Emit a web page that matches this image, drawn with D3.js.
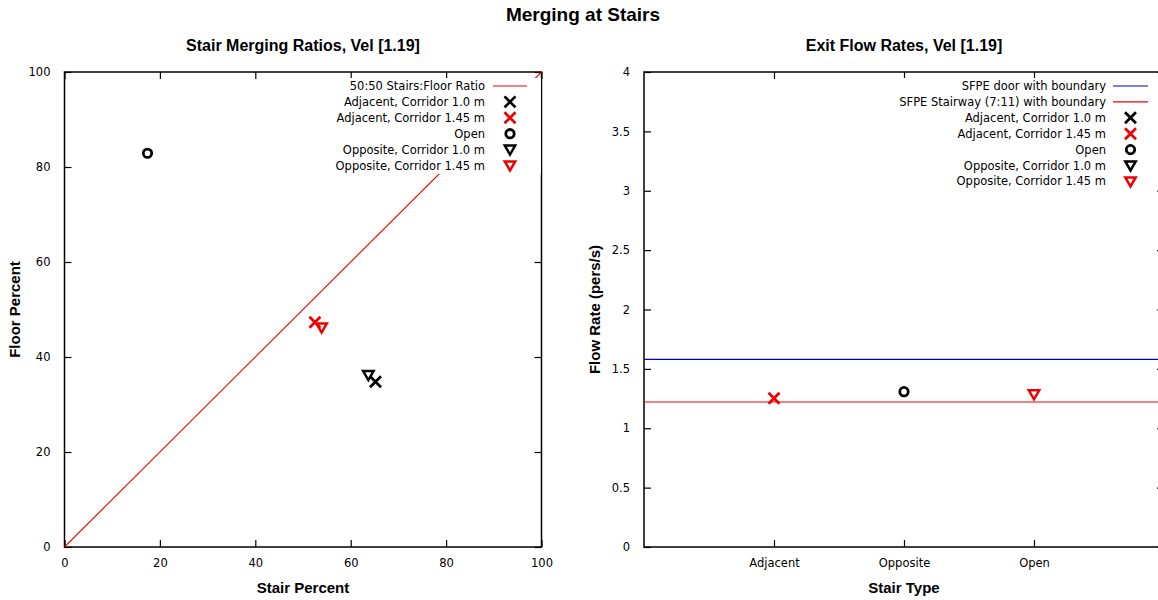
<!DOCTYPE html>
<html><head><meta charset="utf-8">
<script src="https://cdn.jsdelivr.net/npm/d3@7"></script>
<style>body{margin:0;background:#fff}svg{display:block}</style>
</head><body>
<svg id="c" width="1158" height="600"></svg>
<script>
// ---- data ----
const mainTitle = "Merging at Stairs";
const leftTitle = "Stair Merging Ratios, Vel [1.19]";
const rightTitle = "Exit Flow Rates, Vel [1.19]";
const seriesNames = ["Adjacent, Corridor 1.0 m","Adjacent, Corridor 1.45 m","Open","Opposite, Corridor 1.0 m","Opposite, Corridor 1.45 m"];
const seriesColors = ["#000","#e00","#000","#000","#e00"];
const seriesSymbols = ["x","x","o","v","v"];
const stairPercent = [65.2, 52.5, 17.4, 63.7, 53.9];
const floorPercent = [34.8, 47.3, 82.9, 36.2, 46.2];
const ratioLine = [[0,0],[100,100]];
const ratioLabel = "50:50 Stairs:Floor Ratio";
const pctTicks = [0,20,40,60,80,100];

const stairTypes = ["Adjacent","Opposite","Open"];
const flowSeriesIdx = [1, 2, 4];      // series drawn in right panel
const flowPos = [1, 2, 3];            // category position
const flowRate = [1.252, 1.308, 1.286];
const sfpeDoor = 1.58;
const sfpeStair = 1.221;
const sfpeNames = ["SFPE door with boundary","SFPE Stairway (7:11) with boundary"];
const sfpeColors = ["#00c","#e00"];
const flowTicks = [0,0.5,1,1.5,2,2.5,3,3.5,4];

// ---- drawing ----
const svg = d3.select("#c");
const tickFont = "'DejaVu Sans', sans-serif";
const boldFont = "'Liberation Sans', Arial, sans-serif";
const tickSize = 11.5;

svg.append("text").attr("x",583).attr("y",21).attr("text-anchor","middle")
  .attr("font-family",boldFont).attr("font-weight","bold").attr("font-size",19).text(mainTitle);

function symbol(g, type, color, cx, cy){
  if(type==="x"){
    g.append("path").attr("d",`M${cx-5.5},${cy-5.5}L${cx+5.5},${cy+5.5}M${cx-5.5},${cy+5.5}L${cx+5.5},${cy-5.5}`)
     .attr("stroke",color).attr("stroke-width",2.7).attr("fill","none");
  } else if(type==="o"){
    g.append("circle").attr("cx",cx).attr("cy",cy).attr("r",4.2)
     .attr("stroke",color).attr("stroke-width",2.8).attr("fill","none");
  } else {
    g.append("path").attr("d",`M${cx-5.2},${cy-4}L${cx+5.2},${cy-4}L${cx},${cy+5}Z`)
     .attr("stroke",color).attr("stroke-width",2.5).attr("fill","none").attr("stroke-linejoin","miter");
  }
}

function frame(x, y, xTicks, yTicks, xFmt, yFmt, yLabel, xLabel, title, labelX){
  const [x0,x1] = x.range(), [y0,y1] = y.range();
  const g = svg.append("g");
  const clipId = "clip"+Math.round(x0);
  svg.append("clipPath").attr("id",clipId).append("rect").attr("x",x0).attr("y",y1).attr("width",x1-x0).attr("height",y0-y1);
  const ax = d3.axisBottom(x).tickValues(xTicks).tickFormat(xFmt).tickSizeInner(-7).tickSizeOuter(0).tickPadding(14);
  const axT = d3.axisTop(x).tickValues(xTicks).tickFormat("").tickSizeInner(-7).tickSizeOuter(0);
  const ay = d3.axisLeft(y).tickValues(yTicks).tickFormat(yFmt).tickSizeInner(-7).tickSizeOuter(0).tickPadding(14);
  const ayR = d3.axisRight(y).tickValues(yTicks).tickFormat("").tickSizeInner(-7).tickSizeOuter(0);
  const style = s => { s.select(".domain").remove(); s.selectAll("line").attr("stroke","#000").attr("stroke-width",1.2);
    s.selectAll("text").attr("font-family",tickFont).attr("font-size",tickSize).attr("fill","#000"); };
  g.append("g").attr("transform",`translate(0,${y0})`).call(ax).call(style).selectAll("text").attr("dy","0.35em").attr("y",16);
  g.append("g").attr("transform",`translate(0,${y1})`).call(axT).call(style);
  g.append("g").attr("transform",`translate(${x0},0)`).call(ay).call(style);
  g.append("g").attr("transform",`translate(${x1},0)`).call(ayR).call(style);
  g.append("rect").attr("x",x0).attr("y",y1).attr("width",x1-x0).attr("height",y0-y1)
    .attr("fill","none").attr("stroke","#000").attr("stroke-width",1.5);
  svg.append("text").attr("x",(x0+x1)/2).attr("y",51).attr("text-anchor","middle")
    .attr("font-family",boldFont).attr("font-weight","bold").attr("font-size",16).text(title);
  svg.append("text").attr("x",(x0+x1)/2).attr("y",593).attr("text-anchor","middle")
    .attr("font-family",boldFont).attr("font-weight","bold").attr("font-size",15).text(xLabel);
  svg.append("text").attr("transform",`translate(${labelX},${(y0+y1)/2}) rotate(-90)`).attr("text-anchor","middle")
    .attr("font-family",boldFont).attr("font-weight","bold").attr("font-size",15).text(yLabel);
  return clipId;
}

// Left panel
const xL = d3.scaleLinear().domain([0,100]).range([64.5,541.5]);
const yL = d3.scaleLinear().domain([0,100]).range([547,72]);
const clipL = frame(xL, yL, pctTicks, pctTicks, d3.format("d"), d3.format("d"), "Floor Percent", "Stair Percent", leftTitle, 20);
const plotL = svg.append("g").attr("clip-path",`url(#${clipL})`);
plotL.append("path").attr("d", d3.line().x(d=>xL(d[0])).y(d=>yL(d[1]))(ratioLine))
  .attr("stroke","#e00").attr("stroke-width",1.1).attr("fill","none");

function legend(x0, xText, xSample0, xSample1, entries){
  const lg = svg.append("g");
  const rowY = i => 86 + 15.9*i;
  lg.append("rect").attr("x",x0).attr("y",78).attr("width",xSample1+14-x0).attr("height",15.9*entries.length+0.5).attr("fill","#fff");
  entries.forEach((e,i)=>{
    const yy = rowY(i);
    lg.append("text").attr("x",xText).attr("y",yy).attr("dy","0.35em").attr("text-anchor","end")
      .attr("font-family",tickFont).attr("font-size",tickSize).text(e.name);
    if(e.line){
      lg.append("line").attr("x1",xSample0).attr("x2",xSample1).attr("y1",yy).attr("y2",yy)
        .attr("stroke",e.color).attr("stroke-width",1.1);
    } else symbol(lg, e.sym, e.color, (xSample0+xSample1)/2, yy);
  });
}
legend(330, 485, 493, 527, [{name:ratioLabel,line:true,color:"#e00"}].concat(
  seriesNames.map((n,i)=>({name:n,sym:seriesSymbols[i],color:seriesColors[i]}))));
stairPercent.forEach((v,i)=>symbol(plotL, seriesSymbols[i], seriesColors[i], xL(v), yL(floorPercent[i])));

// Right panel
const xR = d3.scaleLinear().domain([0,4]).range([644,1164]);
const yR = d3.scaleLinear().domain([0,4]).range([547,72]);
const clipR = frame(xR, yR, [1,2,3], flowTicks, d=>stairTypes[d-1], d=>d3.format("")(d), "Flow Rate (pers/s)", "Stair Type", rightTitle, 600);
const plotR = svg.append("g").attr("clip-path",`url(#${clipR})`);
[sfpeDoor, sfpeStair].forEach((v,i)=>plotR.append("line").attr("x1",xR(0)).attr("x2",xR(4))
  .attr("y1",yR(v)).attr("y2",yR(v)).attr("stroke",sfpeColors[i]).attr("stroke-width",1.2));
legend(870, 1106, 1113, 1148, sfpeNames.map((n,i)=>({name:n,line:true,color:sfpeColors[i]})).concat(
  seriesNames.map((n,i)=>({name:n,sym:seriesSymbols[i],color:seriesColors[i]}))));
flowRate.forEach((v,k)=>{ const i = flowSeriesIdx[k]; symbol(plotR, seriesSymbols[i], seriesColors[i], xR(flowPos[k]), yR(v)); });
</script>
</body></html>
